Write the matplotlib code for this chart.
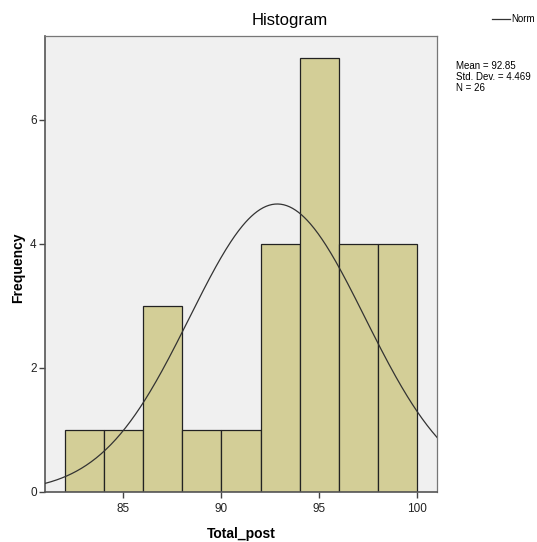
import numpy as np
import matplotlib
matplotlib.use("Agg")
import matplotlib.pyplot as plt

# Histogram of Total_post scores (bin width 2)
bin_edges = [82, 84, 86, 88, 90, 92, 94, 96, 98, 100]
counts = [1, 1, 3, 1, 1, 4, 7, 4, 4]
mean = 92.85
std_dev = 4.469
n = 26
x_ticks = [85, 90, 95, 100]
y_ticks = [0, 2, 4, 6]

plt.rcParams["font.family"] = ["Liberation Sans", "DejaVu Sans"]

W, H = 537, 542
fig = plt.figure(figsize=(W / 100, H / 100), dpi=100)
ax = fig.add_axes([0.0838, 0.0923, 0.730, 0.8413])
ax.set_facecolor("#F0F0F0")

lefts = np.array(bin_edges[:-1])
widths = np.diff(bin_edges)
ax.bar(lefts, counts, width=widths, align="edge", color="#D3CE97",
       edgecolor="#222222", linewidth=0.9, zorder=2)

# Normal curve scaled to counts
xs = np.linspace(81, 101, 400)
scale = n * widths[0]
ys = scale / (std_dev * np.sqrt(2 * np.pi)) * np.exp(-0.5 * ((xs - mean) / std_dev) ** 2)
ax.plot(xs, ys, color="#333333", linewidth=0.9, zorder=3)

ax.set_xlim(81, 101)
ax.set_ylim(0, 7.35)
ax.set_xticks(x_ticks)
ax.set_yticks(y_ticks)
ax.tick_params(axis="both", labelsize=8.5, length=4, width=1, color="#444444",
               labelcolor="#222222")
ax.tick_params(axis="x", pad=4)
ax.tick_params(axis="y", pad=2)

for side in ["top", "right"]:
    ax.spines[side].set_color("#777777")
    ax.spines[side].set_linewidth(0.9)
for side in ["left", "bottom"]:
    ax.spines[side].set_color("#555555")
    ax.spines[side].set_linewidth(1.2)

fig.text(241 / W, 1 - 534 / H, "Total_post", ha="center", va="center",
         fontsize=10, fontweight="bold")
fig.text(18 / W, 1 - 268 / H, "Frequency", ha="center", va="center",
         rotation=90, fontsize=10, fontweight="bold")

fig.text(290 / W, 1 - 20 / H, "Histogram", ha="center", va="center", fontsize=12)

# Legend entry for the normal curve
fig.add_artist(plt.Line2D([492 / W, 510 / W], [1 - 19 / H, 1 - 19 / H],
                          color="#333333", linewidth=0.9))
fig.text(511 / W, 1 - 19 / H, "Norm", ha="left", va="center", fontsize=7)

fig.text(456 / W, 1 - 61 / H,
         f"Mean = {mean}\nStd. Dev. = {std_dev}\nN = {n}",
         ha="left", va="top", fontsize=7, linespacing=1.15)

fig.savefig("out.png", dpi=100, facecolor="white")
